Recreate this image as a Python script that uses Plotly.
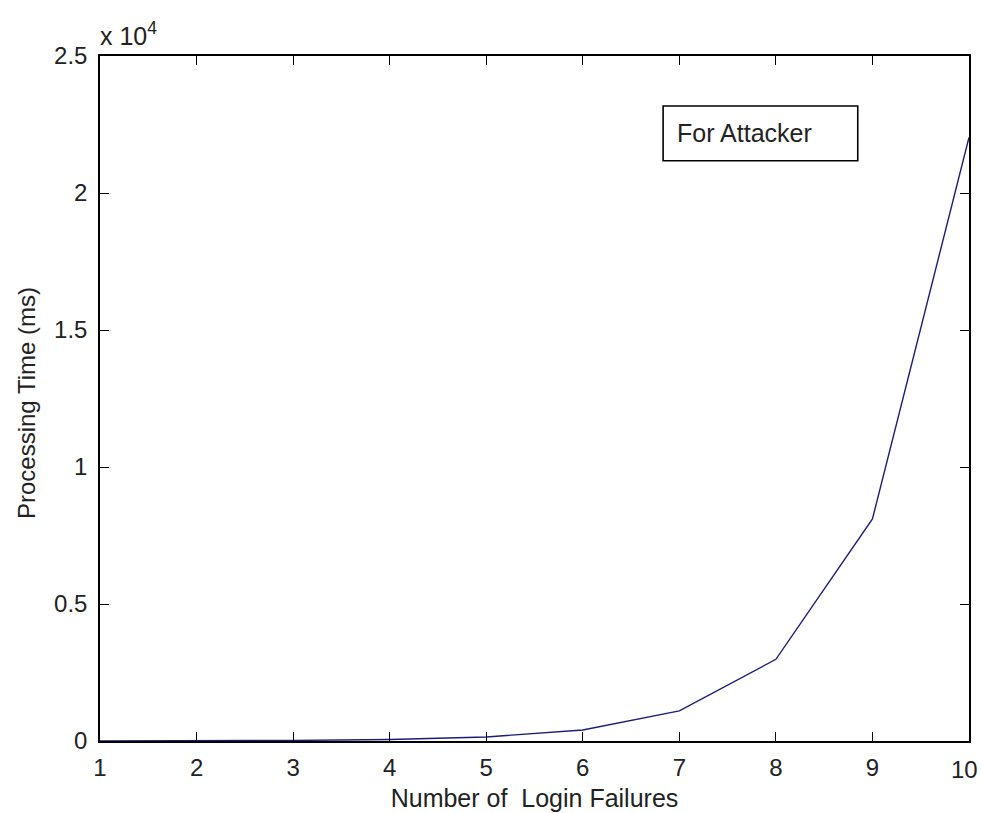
import plotly.graph_objects as go

failures = [1, 2, 3, 4, 5, 6, 7, 8, 9, 10]
processing_ms = [2.7, 7.4, 20, 55, 148, 403, 1097, 2981, 8103, 22026]

x_ticks = [1, 2, 3, 4, 5, 6, 7, 8, 9, 10]
y_ticks = [0, 5000, 10000, 15000, 20000, 25000]
y_ticktext = ["0", "0.5", "1", "1.5", "2", "2.5"]

FONT = "Liberation Sans, Arial, sans-serif"
TXT = "#222"

fig = go.Figure()
fig.add_trace(go.Scatter(
    x=failures, y=processing_ms, mode="lines",
    line=dict(color="#1c1c78", width=1.4),
    showlegend=False, cliponaxis=False,
))

axis_common = dict(
    showline=True, linecolor="black", linewidth=1.5, mirror="allticks",
    ticks="inside", ticklen=9, tickwidth=1.3, tickcolor="black",
    showgrid=False, zeroline=False, automargin=False,
    tickfont=dict(family=FONT, size=24, color=TXT),
)

# last x tick label sits at the window edge; it is drawn as an annotation
# right-aligned to the edge so it does not overflow the page.
x_ticktext = [str(v) for v in x_ticks[:-1]] + [""]

fig.update_layout(
    width=981, height=813,
    margin=dict(l=100, r=12, t=56, b=72),
    paper_bgcolor="white", plot_bgcolor="white",
    font=dict(family=FONT, color=TXT),
    xaxis=dict(range=[1, 10], tickvals=x_ticks, ticktext=x_ticktext, ticklabelstandoff=4,
               title=dict(text="Number of&nbsp; Login Failures",
                          font=dict(size=25, family=FONT, color=TXT), standoff=10),
               **axis_common),
    yaxis=dict(range=[0, 25000], tickvals=y_ticks, ticktext=y_ticktext, ticklabelstandoff=6,
               **axis_common),
)

fig.add_annotation(
    xref="x", yref="paper", x=x_ticks[-1], y=0, xanchor="right", yanchor="middle",
    text=str(x_ticks[-1]), showarrow=False, xshift=11, yshift=-28,
    font=dict(family=FONT, size=24, color=TXT),
)

fig.add_annotation(
    xref="paper", yref="paper", x=0, y=0.5, xanchor="right", yanchor="middle",
    text="Processing Time (ms)", textangle=-90, showarrow=False,
    xshift=-58, yshift=-5,
    font=dict(family=FONT, size=24, color=TXT),
)

fig.add_annotation(
    xref="paper", yref="paper", x=0, y=1, xanchor="left", yanchor="bottom",
    text="x 10<sup>4</sup>", showarrow=False, yshift=4, xshift=-2,
    font=dict(family=FONT, size=25, color=TXT),
)

fig.add_shape(type="rect", xref="paper", yref="paper",
              x0=0.648, x1=0.872, y0=0.847, y1=0.927,
              line=dict(color="black", width=1.6), fillcolor="white")
fig.add_annotation(
    xref="paper", yref="paper", x=0.662, y=0.887, xanchor="left", yanchor="middle",
    text="For Attacker", showarrow=False,
    font=dict(family=FONT, size=25, color=TXT),
)

post = (
    "document.documentElement.style.overflow='hidden';"
    "document.body.style.margin='0';"
    "document.body.style.overflow='hidden';"
)

fig.write_html("out.html", post_script=post, config={"displayModeBar": False})
